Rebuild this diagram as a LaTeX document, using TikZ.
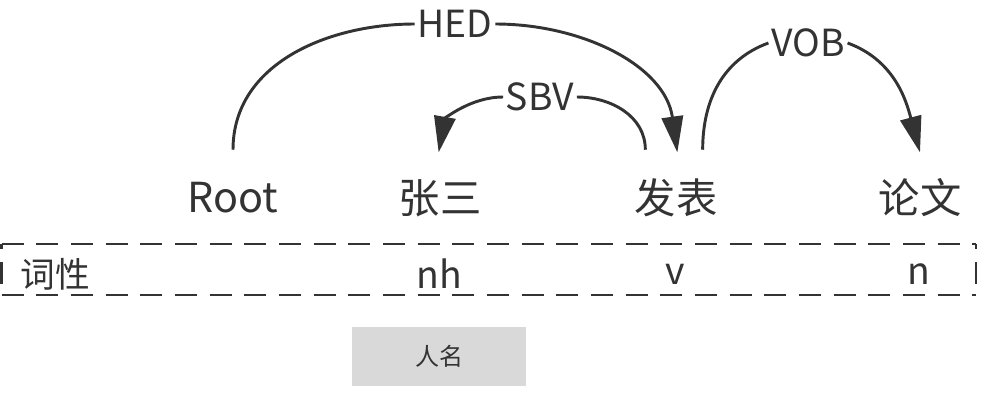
\documentclass[tikz,border=0pt]{standalone}
\usepackage{fontspec}
\setmainfont{Noto Sans CJK SC}
\usetikzlibrary{arrows.meta}
\definecolor{ink}{HTML}{333333}
\definecolor{boxgray}{HTML}{D9D9D9}
\begin{document}
\begin{tikzpicture}[x=0.75pt,y=-0.75pt,
  word/.style={text=ink,font=\fontsize{31}{32}\selectfont,inner sep=0pt,minimum height=72pt},
  tag/.style={text=ink,font=\fontsize{28}{30}\selectfont,inner sep=0pt},
  rel/.style={text=ink,font=\fontsize{28}{30}\selectfont,inner sep=2pt,fill=white},
  dep/.style={draw=ink,line width=2.2pt,-{Triangle[width=16pt,length=27pt]}},
  posline/.style={draw=ink,line width=1.6pt,dash pattern=on 16.5pt off 9.5pt},
  note/.style={fill=boxgray,text=ink,font=\fontsize{18}{20}\selectfont,minimum width=130.5pt,minimum height=44pt,inner sep=0pt},
 ]
\useasboundingbox (0,0) rectangle (984,394);
% dashed POS row
\coordinate (tl) at (1.5,244);
\coordinate (tr) at (976,244);
\coordinate (bl) at (1.5,295);
\coordinate (br) at (976,295);
\draw[posline] (tl) -- (tr);
\draw[posline] (bl) -- (br);
\draw[posline,dash phase=-13.5pt] (tl) -- (bl);
\draw[posline,dash phase=-13.5pt] (tr) -- (br);
% words
\node[word] (root) at (233,198) {Root};
\node[word] (zs) at (440,198) {张三};
\node[word] (fb) at (676,198) {发表};
\node[word] (lw) at (920,198) {论文};
% POS tags
\node[tag,font=\fontsize{26}{28}\selectfont] (cx) at (55,274) {词性};
\node[tag] (nh) at (439,274) {nh};
\node[tag] (v) at (675,274) {v};
\node[tag] (n) at (919,274) {n};
% note box
\node[note] (rm) at (439,356.5) {人名};
% relation labels
\node[rel] (hed) at (455,24) {HED};
\node[rel] (sbv) at (540,97) {SBV};
\node[rel] (vob) at (808,43) {VOB};
% arcs
\draw[dep] (root.north) to[out=90,in=180] (hed.west)
  (hed.east) to[out=0,in=98] ([xshift=1pt,yshift=-2pt]fb.north);
\draw[dep] ([xshift=-23pt]fb.north) to[out=90,in=0] (sbv.east)
  (sbv.west) to[out=180,in=80] ([xshift=-1pt,yshift=-2pt]zs.north);
\draw[dep] ([xshift=20pt]fb.north) to[out=90,in=200] (vob.west)
  (vob.east) to[out=-20,in=105] ([yshift=-2pt]lw.north);
\end{tikzpicture}
\end{document}
